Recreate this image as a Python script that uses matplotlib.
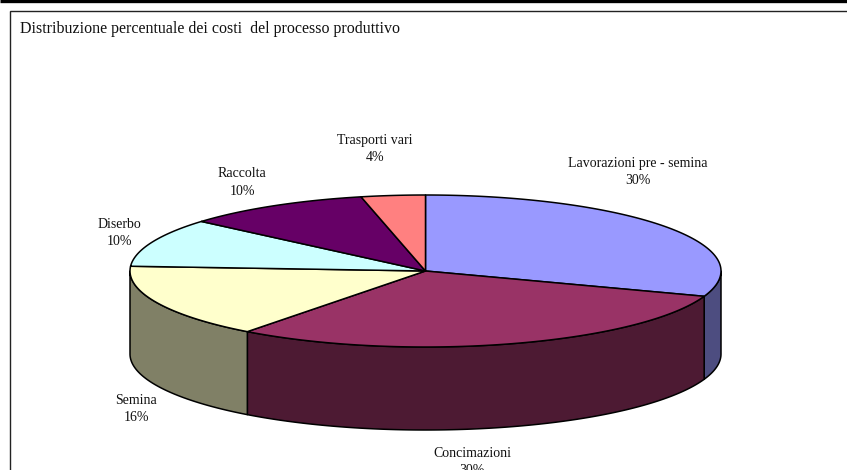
import numpy as np
import matplotlib
matplotlib.use('Agg')
import matplotlib.pyplot as plt
from matplotlib.patches import Polygon

plt.rcParams['font.family'] = ['Liberation Serif', 'DejaVu Serif']

title = "Distribuzione percentuale dei costi  del processo produttivo"

# Slices, clockwise from 12 o'clock. Values estimated from the slice edges
labels = ['Lavorazioni pre - semina', 'Concimazioni', 'Semina', 'Diserbo', 'Raccolta', 'Trasporti vari']
values = [30.4, 29.9, 15.7, 10.3, 10.2, 3.5]
top_colors = ['#9999ff', '#993366', '#ffffcc', '#ccffff', '#660066', '#ff8080']
side_colors = ['#4d4d80', '#4d1a33', '#808066', '#668080', '#330033', '#804040']
label_pos = [(638, 172), (472, 462), (136, 409), (119, 233), (242, 182.5), (375, 149)]

# Pie geometry in pixels
cx, cy = 425.5, 271
rx, ry = 295.5, 76
depth = 83


def rim(a0, a1, drop=0):
    # points on the ellipse, angles in degrees clockwise from the top
    t = np.radians(np.linspace(a0, a1, max(int(abs(a1 - a0) * 2), 2)))
    return np.column_stack([cx + rx * np.sin(t), cy - ry * np.cos(t) + drop])


fig = plt.figure(figsize=(8.47, 4.70), dpi=100)
ax = fig.add_axes([0, 0, 1, 1])
ax.set_xlim(0, 847)
ax.set_ylim(470, 0)
ax.axis('off')

# page rule and the open chart frame
ax.plot([0, 847], [1.2, 1.2], color='black', lw=2.4, solid_capstyle='butt')
ax.plot([847, 10.3, 10.3], [10.6, 10.6, 470], color='#222222', lw=1.0, solid_joinstyle='miter')

ax.text(20.5, 29, title, fontsize=11.5, va='center', ha='left', color='#111111')

edges = np.cumsum([0] + values) / sum(values) * 360

# walls first, only the front half of the ellipse can be seen
for i in range(len(values)):
    a0, a1 = max(edges[i], 90), min(edges[i + 1], 270)
    if a1 <= a0:
        continue
    wall = np.vstack([rim(a0, a1), rim(a0, a1, depth)[::-1]])
    ax.add_patch(Polygon(wall, closed=True, fc=side_colors[i], ec='black', lw=1.1, joinstyle='round'))

# top faces
for i in range(len(values)):
    face = np.vstack([[cx, cy], rim(edges[i], edges[i + 1])])
    ax.add_patch(Polygon(face, closed=True, fc=top_colors[i], ec='black', lw=1.1, joinstyle='round'))

for name, val, (x, y) in zip(labels, values, label_pos):
    ax.text(x, y, f"{name}\n{round(val)}%", fontsize=10, ha='center', va='center',
            linespacing=1.45, color='#111111')

fig.savefig('out.png', dpi=100)
